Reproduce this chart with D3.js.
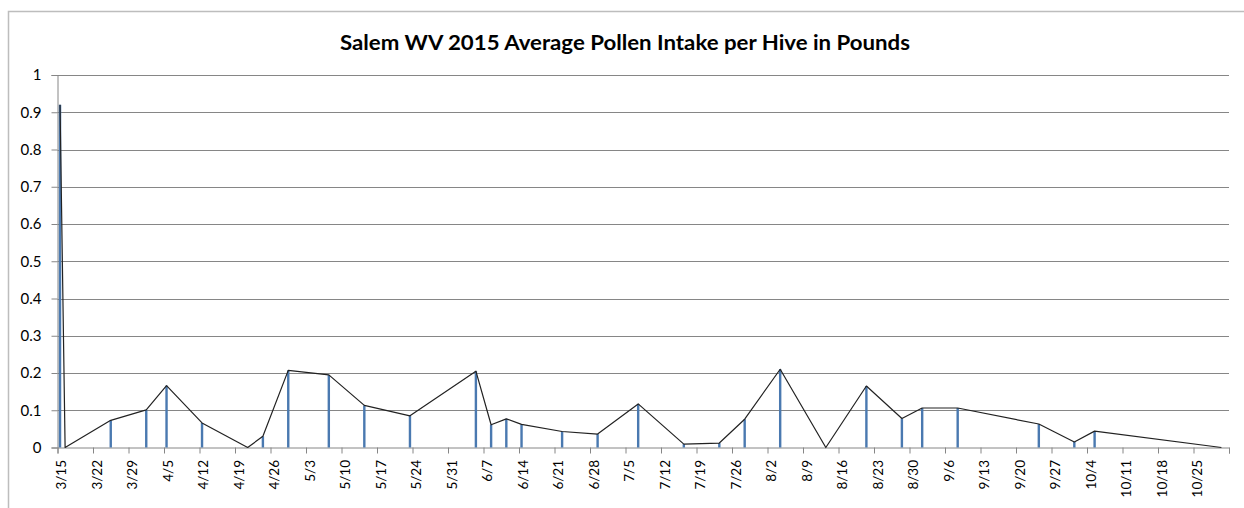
<!DOCTYPE html>
<html>
<head>
<meta charset="utf-8">
<script src="https://cdn.jsdelivr.net/npm/d3@7"></script>
<style>
  html, body { margin: 0; padding: 0; background: #fff; }
  svg { display: block; }
  text { font-family: Lato, "Open Sans", sans-serif; fill: #000; }
</style>
</head>
<body>
<svg id="chart" width="1244" height="508"></svg>
<script>
// ---- data ----
const title = "Salem WV 2015 Average Pollen Intake per Hive in Pounds";
const dates = ["3/15","3/16","3/25","4/1","4/5","4/12","4/21","4/24","4/29","5/7","5/14","5/23",
  "6/5","6/8","6/11","6/14","6/22","6/29","7/7","7/16","7/23","7/28","8/4","8/13",
  "8/21","8/28","9/1","9/8","9/24","10/1","10/5","10/30"];
const values = [0.92,0,0.073,0.101,0.166,0.066,0,0.03,0.207,0.195,0.113,0.085,
  0.205,0.061,0.077,0.062,0.043,0.036,0.117,0.009,0.012,0.076,0.21,0,
  0.165,0.078,0.106,0.106,0.063,0.015,0.044,0];
const tickLabels = ["3/15","3/22","3/29","4/5","4/12","4/19","4/26","5/3","5/10","5/17","5/24","5/31",
  "6/7","6/14","6/21","6/28","7/5","7/12","7/19","7/26","8/2","8/9","8/16","8/23","8/30",
  "9/6","9/13","9/20","9/27","10/4","10/11","10/18","10/25"];
const yTicks = [0,0.1,0.2,0.3,0.4,0.5,0.6,0.7,0.8,0.9,1];
const axisStart = "3/15", axisEnd = "11/1";

// ---- helpers ----
const parse = s => { const [m, d] = s.split("/").map(Number); return new Date(2015, m - 1, d); };
const mid = s => d3.timeHour.offset(parse(s), 12);

const svg = d3.select("#chart");
const W = 1244, H = 508;

// frame
svg.append("path").attr("d", `M8.5,${H} V11.5 H${W}`)
  .attr("fill", "none").attr("stroke", "#bdbdbd").attr("stroke-width", 1.5);

const x = d3.scaleTime().domain([parse(axisStart), parse(axisEnd)]).range([57.5, 1229]);
const y = d3.scaleLinear().domain([0, 1]).range([447.5, 75]);

// gridlines
svg.append("g").selectAll("line").data(yTicks.filter(v => v > 0)).join("line")
  .attr("x1", 57.5).attr("x2", 1229)
  .attr("y1", d => Math.round(y(d)) + 0.5).attr("y2", d => Math.round(y(d)) + 0.5)
  .attr("stroke", "#868686").attr("stroke-width", 1);

// y axis
const yAxis = d3.axisLeft(y).tickValues(yTicks).tickSize(6).tickFormat(d => d === 0 ? "0" : d === 1 ? "1" : d3.format(".1f")(d));
const gy = svg.append("g").attr("transform", "translate(57.5,0)").call(yAxis);
gy.select(".domain").attr("stroke", "#868686");
gy.selectAll(".tick line").attr("stroke", "#868686");
gy.selectAll(".tick text").attr("x", -16).attr("font-size", 15).attr("font-family", "Lato, sans-serif").attr("fill", "#111");

// x axis
const tickDates = tickLabels.map(parse).concat([parse(axisEnd)]);
const xAxis = d3.axisBottom(x).tickValues(tickDates).tickSize(6)
  .tickFormat((d, i) => i < tickLabels.length ? tickLabels[i] : "");
const gx = svg.append("g").attr("transform", "translate(0,447.5)").call(xAxis);
gx.select(".domain").attr("stroke", "#868686");
gx.selectAll(".tick line").attr("stroke", "#868686");
const halfDay = x(mid("3/15")) - x(parse("3/15"));
gx.selectAll(".tick text")
  .attr("transform", "rotate(-90)")
  .attr("text-anchor", "end")
  .attr("x", -12.5)
  .attr("y", halfDay + 1)
  .attr("dy", "0.35em")
  .attr("font-size", 13.5).attr("font-family", "Lato, sans-serif").attr("fill", "#111");

// columns
svg.append("g").selectAll("rect").data(dates.map((d, i) => ({d, v: values[i]})).filter(p => p.v > 0)).join("rect")
  .attr("x", p => x(mid(p.d)) - 1.2)
  .attr("width", 2.4)
  .attr("y", p => y(p.v))
  .attr("height", p => y(0) - y(p.v))
  .attr("fill", "#4a79b0");

// line
const line = d3.line().x((d, i) => x(mid(dates[i]))).y(d => y(d));
svg.append("path").datum(values).attr("d", line)
  .attr("fill", "none").attr("stroke", "#222").attr("stroke-width", 1.2).attr("stroke-linejoin", "round");

// title
svg.append("text").attr("x", 625).attr("y", 50).attr("text-anchor", "middle")
  .attr("font-size", 20).attr("font-weight", "bold").attr("font-family", "Lato, sans-serif")
  .attr("textLength", 570).attr("lengthAdjust", "spacingAndGlyphs")
  .text(title);
</script>
</body>
</html>
